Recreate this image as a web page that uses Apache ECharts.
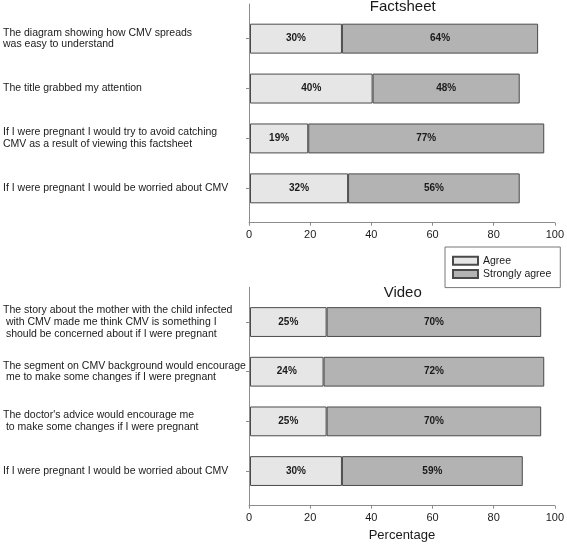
<!DOCTYPE html>
<html><head><meta charset="utf-8">
<script src="https://cdn.jsdelivr.net/npm/echarts@6/dist/echarts.min.js"></script>
<style>html,body{margin:0;padding:0;background:#fff}#c{width:567px;height:544px}</style>
</head><body><div id="c"></div>
<script>
// ---- data ----
const factsheetCategories = [
  'The diagram showing how CMV spreads\nwas easy to understand',
  'The title grabbed my attention',
  'If I were pregnant I would try to avoid catching\nCMV as a result of viewing this factsheet',
  'If I were pregnant I would be worried about CMV'
];
const factsheetAgree = [30, 40, 19, 32];
const factsheetStronglyAgree = [64, 48, 77, 56];

const videoCategories = [
  'The story about the mother with the child infected\n with CMV made me think CMV is something I\n should be concerned about if I were pregnant',
  'The segment on CMV background would encourage\n me to make some changes if I were pregnant',
  "The doctor's advice would encourage me\n to make some changes if I were pregnant",
  'If I were pregnant I would be worried about CMV'
];
const videoAgree = [25, 24, 25, 30];
const videoStronglyAgree = [70, 72, 70, 59];

const seriesNames = ['Agree', 'Strongly agree'];
const panelTitles = ['Factsheet', 'Video'];
const xAxisTitle = 'Percentage';
const xMin = 0, xMax = 100, xStep = 20;

// ---- styling ----
const REG = "'Liberation Sans', Arial, sans-serif";
const AXIS_COLOR = '#8c8c8c';
const TEXT = '#1a1a1a';
const FILLS = ['#e6e6e6', '#b3b3b3'];
const BORDER = '#4a4a4a';

const chart = echarts.init(document.getElementById('c'), null, {renderer: 'canvas'});

const L = 249, R = 567 - 556.5;
const grids = [
  {left: L, right: R, top: 13.7, height: 199.6},   // 0 factsheet bars
  {left: L, right: R, top: 4, height: 218.7},      // 1 factsheet frame
  {left: L, right: R, top: 297.2, height: 198.7},  // 2 video bars
  {left: L, right: R, top: 287.3, height: 218.4}   // 3 video frame
];

function barX(gi) {
  return {gridIndex: gi, type: 'value', min: xMin, max: xMax, interval: xStep, show: false};
}
function frameX(gi, withName) {
  return {
    gridIndex: gi, type: 'value', min: xMin, max: xMax, interval: xStep,
    axisLine: {show: true, onZero: false, lineStyle: {color: AXIS_COLOR, width: 1}},
    axisTick: {show: true, length: 3, lineStyle: {color: AXIS_COLOR}},
    axisLabel: {show: true, margin: 7, color: TEXT, fontFamily: REG, fontSize: 11},
    splitLine: {show: false},
    name: withName ? xAxisTitle : '',
    nameLocation: 'middle', nameGap: 23,
    nameTextStyle: {color: TEXT, fontFamily: REG, fontSize: 13}
  };
}
function barY(gi, cats) {
  return {
    gridIndex: gi, type: 'category', data: cats, inverse: true,
    axisLine: {show: false},
    axisTick: {show: true, alignWithLabel: true, length: 4, lineStyle: {color: AXIS_COLOR}},
    axisLabel: {show: true, align: 'left', margin: 247, color: TEXT,
      fontFamily: REG, fontSize: 10.5, lineHeight: 11.7},
    splitLine: {show: false}
  };
}
function frameY(gi) {
  return {
    gridIndex: gi, type: 'value', min: 0, max: 1,
    axisLine: {show: true, onZero: false, lineStyle: {color: AXIS_COLOR, width: 1}},
    axisTick: {show: false}, axisLabel: {show: false}, splitLine: {show: false}
  };
}

function barSeries(name, idx, data, axisIdx, stack) {
  return {
    type: 'bar', name: name, data: data, stack: stack,
    xAxisIndex: axisIdx, yAxisIndex: axisIdx,
    barCategoryGap: '40%',
    itemStyle: {color: FILLS[idx], borderColor: BORDER, borderWidth: 1},
    label: {show: true, position: 'inside', formatter: '{c}%', color: TEXT,
      fontFamily: REG, fontWeight: 'bold', fontSize: 10},
    emphasis: {disabled: true},
    animation: false
  };
}

chart.setOption({
  animation: false,
  backgroundColor: '#fff',
  title: [
    {text: panelTitles[0], left: 402.75, top: -1, textAlign: 'center', padding: 0,
      textStyle: {fontFamily: REG, fontSize: 15, fontWeight: 'normal', color: TEXT}},
    {text: panelTitles[1], left: 402.75, top: 285.5, textAlign: 'center', padding: 0,
      textStyle: {fontFamily: REG, fontSize: 15, fontWeight: 'normal', color: TEXT}}
  ],
  legend: {
    data: seriesNames, orient: 'vertical', left: 445, top: 247,
    padding: [7, 9, 7, 7], itemGap: 0, itemWidth: 25, itemHeight: 8,
    borderColor: '#777', borderWidth: 1, icon: 'rect',
    textStyle: {fontFamily: REG, fontSize: 10.5, color: TEXT, lineHeight: 13.3},
    selectedMode: false
  },
  grid: grids,
  xAxis: [barX(0), frameX(1, false), barX(2), frameX(3, true)],
  yAxis: [barY(0, factsheetCategories), frameY(1), barY(2, videoCategories), frameY(3)],
  series: [
    barSeries(seriesNames[0], 0, factsheetAgree, 0, 'fact'),
    barSeries(seriesNames[1], 1, factsheetStronglyAgree, 0, 'fact'),
    barSeries(seriesNames[0], 0, videoAgree, 2, 'video'),
    barSeries(seriesNames[1], 1, videoStronglyAgree, 2, 'video')
  ]
});
</script>
</body></html>
